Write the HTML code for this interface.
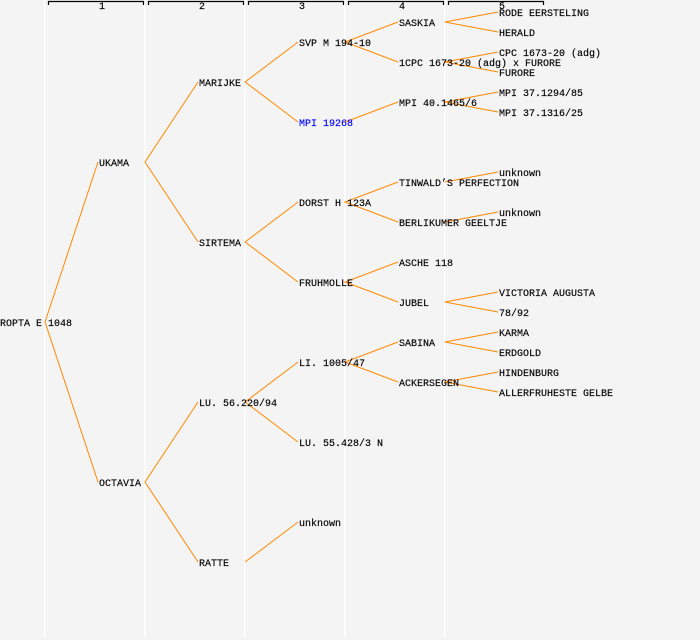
<!DOCTYPE html>
<html><head><style>
html,body{margin:0;padding:0;background:#f4f4f4;}
svg{display:block;}
text{font-family:"Liberation Mono",monospace;font-size:10px;fill:#000;stroke:#000;stroke-width:0.15;}
</style></head><body>
<svg width="700" height="640" viewBox="0 0 700 640">
<rect width="700" height="640" fill="#f4f4f4"/>
<g stroke="#fff" stroke-width="1.5">
<line x1="44.7" y1="0" x2="44.7" y2="637"/>
<line x1="144.7" y1="0" x2="144.7" y2="637"/>
<line x1="244.7" y1="0" x2="244.7" y2="637"/>
<line x1="344.7" y1="0" x2="344.7" y2="637"/>
<line x1="444.7" y1="0" x2="444.7" y2="637"/>
</g>
<g stroke="#000" stroke-width="1.2" fill="none">
<path d="M48.5 5V1.5H143.5V5"/>
<path d="M148.5 5V1.5H243.5V5"/>
<path d="M248.5 5V1.5H343.5V5"/>
<path d="M348.5 5V1.5H443.5V5"/>
<path d="M448.5 5V1.5H543.5V5"/>
</g>
<g style="font-size:8px" text-anchor="middle">
<text x="102" y="9">1</text><text x="202" y="9">2</text><text x="302" y="9">3</text><text x="402" y="9">4</text><text x="502" y="9">5</text>
</g>
<g stroke="#ff8800" stroke-width="1" fill="none">
<path d="M98 162L45 322L98 482"/>
<path d="M198 82L145 162L198 242"/>
<path d="M198 402L145 482L198 562"/>
<path d="M298 42L245 82L298 122"/>
<path d="M298 202L245 242L298 282"/>
<path d="M298 362L245 402L298 442"/>
<path d="M298 522L245 562"/>
<path d="M398 22L345 42L398 62"/>
<path d="M398 102L345 122"/>
<path d="M398 182L345 202L398 222"/>
<path d="M398 262L345 282L398 302"/>
<path d="M398 342L345 362L398 382"/>
<path d="M498 12L445 22L498 32"/>
<path d="M498 52L445 62L498 72"/>
<path d="M498 92L445 102L498 112"/>
<path d="M498 172L445 182"/>
<path d="M498 212L445 222"/>
<path d="M498 292L445 302L498 312"/>
<path d="M498 332L445 342L498 352"/>
<path d="M498 372L445 382L498 392"/>
</g>
<g>
<text x="0" y="326">ROPTA E 1048</text>
<text x="99" y="166">UKAMA</text>
<text x="99" y="486">OCTAVIA</text>
<text x="199" y="86">MARIJKE</text>
<text x="199" y="246">SIRTEMA</text>
<text x="199" y="406">LU. 56.220/94</text>
<text x="199" y="566">RATTE</text>
<text x="299" y="46">SVP M 194-10</text>
<text x="299" y="126" style="fill:#0000ff;stroke:#0000ff">MPI 19268</text>
<text x="299" y="206">DORST H 123A</text>
<text x="299" y="286">FRUHMOLLE</text>
<text x="299" y="366">LI. 1005/47</text>
<text x="299" y="446">LU. 55.428/3 N</text>
<text x="299" y="526">unknown</text>
<text x="399" y="26">SASKIA</text>
<text x="399" y="66">1CPC 1673-20 (adg) x FURORE</text>
<text x="399" y="106">MPI 40.1465/6</text>
<text x="399" y="186">TINWALD’S PERFECTION</text>
<text x="399" y="226">BERLIKUMER GEELTJE</text>
<text x="399" y="266">ASCHE 118</text>
<text x="399" y="306">JUBEL</text>
<text x="399" y="346">SABINA</text>
<text x="399" y="386">ACKERSEGEN</text>
<text x="499" y="16">RODE EERSTELING</text>
<text x="499" y="36">HERALD</text>
<text x="499" y="56">CPC 1673-20 (adg)</text>
<text x="499" y="76">FURORE</text>
<text x="499" y="96">MPI 37.1294/85</text>
<text x="499" y="116">MPI 37.1316/25</text>
<text x="499" y="176">unknown</text>
<text x="499" y="216">unknown</text>
<text x="499" y="296">VICTORIA AUGUSTA</text>
<text x="499" y="316">78/92</text>
<text x="499" y="336">KARMA</text>
<text x="499" y="356">ERDGOLD</text>
<text x="499" y="376">HINDENBURG</text>
<text x="499" y="396">ALLERFRUHESTE GELBE</text>
</g>
</svg>
</body></html>
